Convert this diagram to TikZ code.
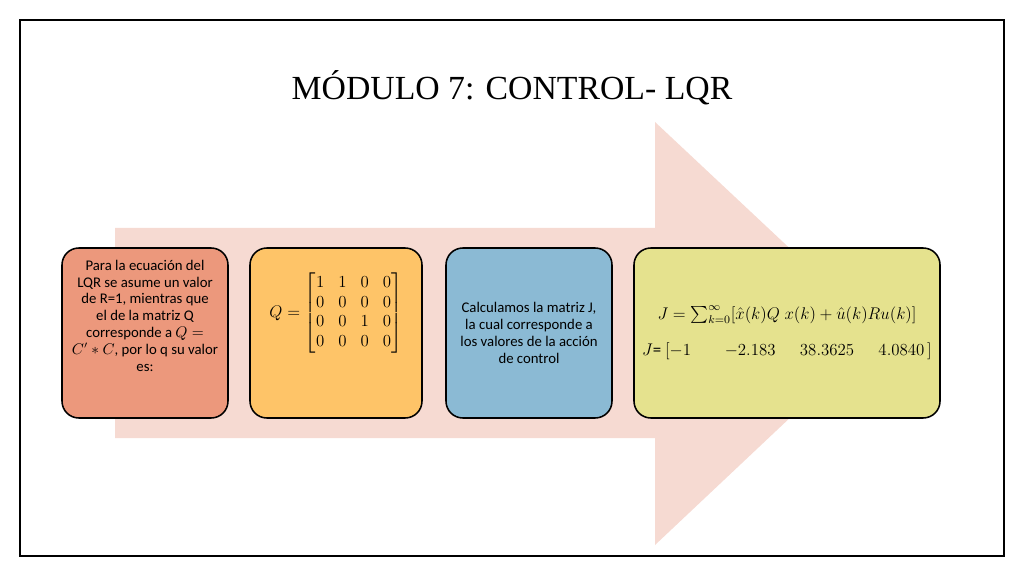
\documentclass[tikz,border=0pt]{standalone}
\usepackage{amsmath}
\usepackage{fontspec}
\setmainfont{Carlito}
\newfontfamily\titlefont{Liberation Serif}
\definecolor{arrowpink}{RGB}{246,218,210}
\definecolor{boxred}{RGB}{236,152,124}
\definecolor{boxorange}{RGB}{254,196,104}
\definecolor{boxblue}{RGB}{139,186,212}
\definecolor{boxlime}{RGB}{229,226,142}
\tikzset{stepbox/.style = {draw, line width=1.1pt, rounded corners=12pt, align=center, font=\fontsize{10.5}{12}\selectfont}}
\begin{document}
\begin{tikzpicture}[x=0.025cm, y=-0.025cm]
\useasboundingbox (0,0) rectangle (1024,576);
\draw[line width=0.8pt] (20,20) rectangle (1004,556);
\node[font=\titlefont\fontsize{24}{28}\selectfont] (title) at (512,88) {MÓDULO 7: CONTROL- LQR};
% big arrow behind the steps
\fill[arrowpink] (115,228) -- (655,228) -- (655,122) -- (880,333) -- (655,545) -- (655,438) -- (115,438) -- cycle;
\node[stepbox, fill=boxred, minimum width=166*0.025cm, minimum height=170*0.025cm] (s1) at (145,333)
  {Para la ecuación del\\ LQR se asume un valor\\ de R=1, mientras que\\ el de la matriz Q\\ corresponde a $Q=$\\ $C'*C$, por lo q su valor\\ es:\\[1.2em]};
\node[stepbox, fill=boxorange, minimum width=172*0.025cm, minimum height=170*0.025cm] (s2) at (336,333)
  {\large $Q=\begin{bmatrix}1&1&0&0\\0&0&0&0\\0&0&1&0\\0&0&0&0\end{bmatrix}$\\[2.6em]};
\node[stepbox, fill=boxblue, minimum width=166*0.025cm, minimum height=170*0.025cm] (s3) at (529,333)
  {Calculamos la matriz J,\\ la cual corresponde a\\ los valores de la acción\\ de control};
\node[stepbox, fill=boxlime, minimum width=306*0.025cm, minimum height=170*0.025cm] (s4) at (787,333)
  {\large $J=\sum_{k=0}^{\infty}[\hat{x}(k)Q\;x(k)+\hat{u}(k)Ru(k)]$\\[1.2em]
   {\large $J$= $[-1\qquad{-2.183}\quad\;\,38.3625\quad\;\,4.0840\,]$}};
\end{tikzpicture}
\end{document}
